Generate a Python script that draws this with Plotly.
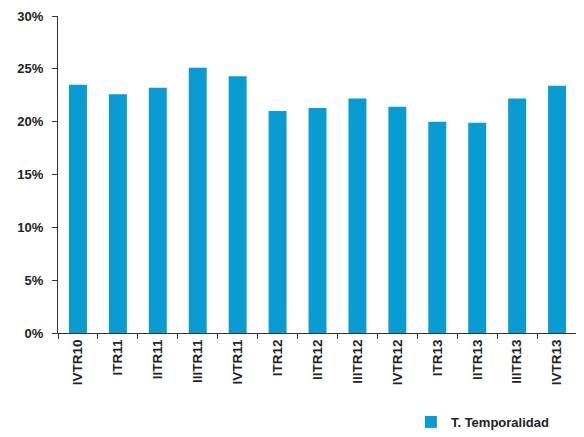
import plotly.graph_objects as go

categories = ["IVTR10", "ITR11", "IITR11", "IIITR11", "IVTR11", "ITR12", "IITR12",
              "IIITR12", "IVTR12", "ITR13", "IITR13", "IIITR13", "IVTR13"]
temporalidad = [0.235, 0.226, 0.232, 0.251, 0.243, 0.210, 0.213,
                0.222, 0.214, 0.200, 0.199, 0.222, 0.234]
y_ticks = [0, 0.05, 0.10, 0.15, 0.20, 0.25, 0.30]
y_tick_labels = ["0%", "5%", "10%", "15%", "20%", "25%", "30%"]

fig = go.Figure()
fig.add_trace(go.Bar(
    x=categories, y=temporalidad, name="T. Temporalidad",
    marker=dict(color="#0A9BD3", line=dict(width=0)),
))

font_family = "Liberation Sans, Arial, sans-serif"
# page body has an 8px default margin, so the figure is sized to fit 584x437
fig.update_layout(
    width=576, height=429,
    margin=dict(l=50, r=7, t=8, b=104),
    paper_bgcolor="white", plot_bgcolor="white",
    bargap=0.55,
    showlegend=True,
    legend=dict(x=0.68, y=0.035, xanchor="left", yanchor="middle",
                xref="paper", yref="container",
                font=dict(family=font_family, size=13, color="#222", weight="bold"),
                itemwidth=30, bgcolor="rgba(0,0,0,0)"),
    font=dict(family=font_family, color="#222"),
)
fig.update_xaxes(
    showline=True, linecolor="#333", linewidth=1,
    ticks="outside", ticklen=5, tickcolor="#333",
    tickson="boundaries", tickangle=-90, automargin=False,
    tickfont=dict(family=font_family, size=13.5, color="#222", weight="bold"),
    showgrid=False,
)
fig.update_yaxes(
    range=[0, 0.30], tickvals=y_ticks, ticktext=y_tick_labels,
    showline=True, linecolor="#333", linewidth=1, automargin=False,
    ticks="outside", ticklen=5, tickcolor="#333", ticklabelstandoff=6,
    tickfont=dict(family=font_family, size=13, color="#222", weight="bold"),
    showgrid=False, zeroline=False,
)
fig.write_html("out.html")
